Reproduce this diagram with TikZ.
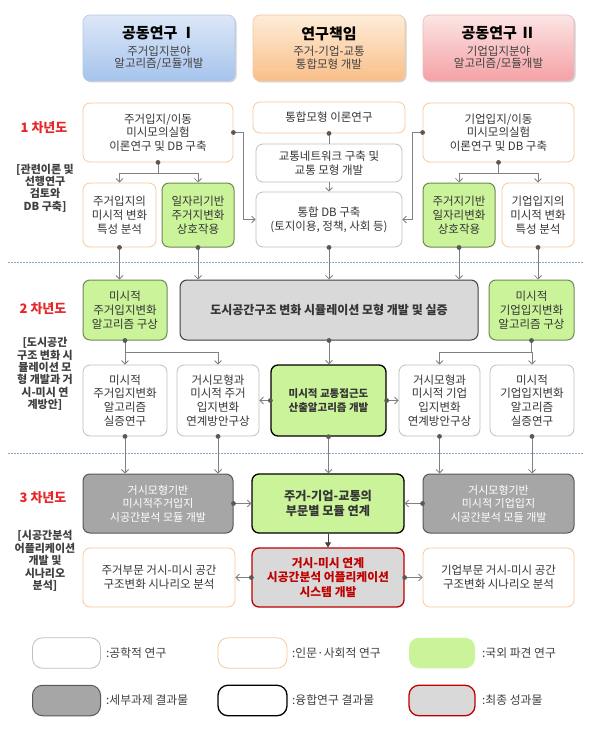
\documentclass[tikz,border=0pt]{standalone}
\usepackage{fontspec}
\setmainfont{Noto Sans CJK KR}
\usetikzlibrary{arrows.meta,calc}
\definecolor{txt}{HTML}{353535}
\definecolor{enggray}{HTML}{BFBFBF}
\definecolor{humor}{HTML}{F8C99A}
\definecolor{abrgreen}{HTML}{CBF39A}
\definecolor{abrborder}{HTML}{6F8A55}
\definecolor{resgray}{HTML}{A6A6A6}
\definecolor{resborder}{HTML}{595959}
\definecolor{finred}{HTML}{C00000}
\definecolor{lightgray2}{HTML}{D9D9D9}
\definecolor{darkborder}{HTML}{404040}
\definecolor{lgray}{HTML}{808080}
\definecolor{dotgray}{HTML}{595959}
\definecolor{yred}{HTML}{E8262A}
\definecolor{brkgray}{HTML}{404040}
\definecolor{sepblue}{HTML}{8EA9C8}
\definecolor{subtxt}{HTML}{404040}
\definecolor{hbtop}{HTML}{DCE7F8}
\definecolor{hbbot}{HTML}{A5C3EC}
\definecolor{hbdraw}{HTML}{B4C8E6}
\definecolor{hotop}{HTML}{FDECD8}
\definecolor{hobot}{HTML}{F9BE87}
\definecolor{hodraw}{HTML}{F2C8A0}
\definecolor{hptop}{HTML}{FCE4E4}
\definecolor{hpbot}{HTML}{F4A0A4}
\definecolor{hpdraw}{HTML}{ECBABA}
\newcommand\mydot[1]{\fill[dotgray] (#1) circle (2.4pt);}
\newcommand\mygrad[6]{% x1 y1 x2 y2 topcolor botcolor
  \fill[gray!35, rounded corners=7pt] ({#1+1.5},{#2+1.5}) rectangle ({#3+1.5},{#4+1.5});
  \begin{scope}
  \clip[rounded corners=7pt] (#1,#2) rectangle (#3,#4);
  \foreach \i in {0,...,33} {
    \pgfmathtruncatemacro\pp{100*\i/33}
    \fill[#6!\pp!#5] (#1,{#2+2*\i}) rectangle (#3,{#2+2*\i+2.2});
  }
  \end{scope}}
\newcommand\hdrtitle[1]{{\bfseries\fontsize{15}{17}\selectfont #1}}
\newcommand\hdrsub{\rule{0pt}{14pt}}
\begin{document}
\begin{tikzpicture}[x=1pt,y=-1pt,
 base/.style={rounded corners=7pt, align=center, inner sep=1pt, line width=0.8pt, font=\fontsize{11.5}{13.8}\selectfont, text=txt},
 eng/.style={base, draw=enggray, fill=white},
 hum/.style={base, draw=humor, fill=white},
 abr/.style={base, draw=abrborder, fill=abrgreen, line width=1pt},
 res/.style={base, draw=resborder, fill=resgray, text=white, line width=1pt, font=\fontsize{11}{13.5}\selectfont},
 fus/.style={base, draw=black, fill=abrgreen, line width=1.3pt, font=\bfseries\fontsize{10.5}{14}\selectfont},
 fin/.style={base, draw=finred, fill=lightgray2, line width=1.3pt, text=finred, font=\bfseries\fontsize{11.8}{14.5}\selectfont},
 sim/.style={base, draw=darkborder, fill=lightgray2, line width=1pt, font=\bfseries\fontsize{12}{14}\selectfont},
 hdr/.style={rounded corners=7pt, align=center, inner sep=1pt, line width=0.6pt, minimum width=152pt, minimum height=66pt, text=subtxt, font=\fontsize{11.5}{12.5}\selectfont},
 conn/.style={draw=lgray, line width=0.8pt},
 arr/.style={conn, -{Straight Barb[length=3.5pt,width=7pt]}},
 farr/.style={draw=darkborder, line width=1pt, -{Triangle[length=5pt,width=6pt]}},
 yr/.style={text=yred, font=\bfseries\fontsize{13}{14}\selectfont},
 brk/.style={text=brkgray, align=center, font=\bfseries\fontsize{11}{12.4}\selectfont},
 sep/.style={draw=sepblue, line width=0.8pt, dash pattern=on 1.5pt off 1.5pt},
 lgt/.style={anchor=west, inner sep=0pt, font=\fontsize{11.8}{13}\selectfont, text=subtxt},
 lbox/.style={base, rounded corners=10pt, minimum width=68pt, minimum height=30.5pt},
]
\useasboundingbox[fill=white] (0,0) rectangle (595,733);

% header backgrounds
\mygrad{83}{15}{235}{81}{hbtop}{hbbot}
\mygrad{253}{15}{405}{81}{hotop}{hobot}
\mygrad{423}{15}{574}{81}{hptop}{hpbot}
% headers
\node[hdr, draw=hbdraw] (H1) at (159,48)
 {\textcolor{black}{\hdrtitle{공동연구 Ⅰ}}\\\hdrsub 주거입지분야\\알고리즘/모듈개발};
\node[hdr, draw=hodraw] (H2) at (329,48)
 {\textcolor{black}{\hdrtitle{연구책임}}\\\hdrsub 주거-기업-교통\\통합모형 개발};
\node[hdr, minimum width=151pt, draw=hpdraw] (H3) at (498.5,48)
 {\textcolor{black}{\hdrtitle{공동연구 Ⅱ}}\\\hdrsub 기업입지분야\\알고리즘/모듈개발};

% year labels
\node[yr] (Y1) at (44,128) {1 차년도};
\node[brk] (K1) at (45,188) {[관련이론 및\\선행연구\\검토와\\DB 구축]};
\node[yr] (Y2) at (43,309) {2 차년도};
\node[brk] (K2) at (45,374) {[도시공간\\구조 변화 시\\뮬레이션 모\\형 개발과 거\\시-미시 연\\계방안]};
\node[yr] (Y3) at (43,498) {3 차년도};
\node[brk] (K3) at (45,561) {[시공간분석\\어플리케이션\\개발 및\\시나리오\\분석]};

% separators
\draw[sep] (8,262) -- (583,262);
\draw[sep] (8,453) -- (583,453);

% year 1
\node[hum, minimum width=150pt, minimum height=59pt] (A1) at (158,132.5) {주거입지/이동\\미시모의실험\\이론연구 및 DB 구축};
\node[hum, minimum width=73pt, minimum height=64pt] (A2) at (119.5,215) {주거입지의\\미시적 변화\\특성 분석};
\node[abr, minimum width=72pt, minimum height=64pt] (A3) at (198,215) {일자리기반\\주거지변화\\상호작용};
\node[hum, minimum width=152pt, minimum height=31pt] (C1) at (329,117.5) {통합모형 이론연구};
\node[eng, minimum width=146pt, minimum height=38pt] (C2) at (329,163) {교통네트워크 구축 및\\교통 모형 개발};
\node[eng, minimum width=146pt, minimum height=55pt] (C3) at (329,219.5) {통합 DB 구축\\(토지이용, 정책, 사회 등)};
\node[hum, minimum width=151pt, minimum height=59pt] (B1) at (498.5,132.5) {기업입지/이동\\미시모의실험\\이론연구 및 DB 구축};
\node[abr, minimum width=72pt, minimum height=64pt] (B2) at (459,215) {주거지기반\\일자리변화\\상호작용};
\node[hum, minimum width=72pt, minimum height=64pt] (B3) at (538,215) {기업입지의\\미시적 변화\\특성 분석};

% year 2
\node[abr, minimum width=84pt, minimum height=60pt] (D1) at (125,310) {미시적\\주거입지변화\\알고리즘 구상};
\node[sim, minimum width=298pt, minimum height=60pt] (D2) at (329,310) {도시공간구조 변화 시뮬레이션 모형 개발 및 실증};
\node[abr, minimum width=85pt, minimum height=60pt] (D3) at (531.5,310) {미시적\\기업입지변화\\알고리즘 구상};
\node[eng, minimum width=84pt, minimum height=71pt] (E1) at (125,400.5) {미시적\\주거입지변화\\알고리즘\\실증연구};
\node[eng, minimum width=82pt, minimum height=71pt] (E2) at (218,400.5) {거시모형과\\미시적 주거\\입지변화\\연계방안구상};
\node[fus, minimum width=115pt, minimum height=71pt] (E3) at (328.5,400.5) {미시적 교통접근도\\산출알고리즘 개발};
\node[eng, minimum width=81pt, minimum height=71pt] (E4) at (439.5,400.5) {거시모형과\\미시적 기업\\입지변화\\연계방안구상};
\node[eng, minimum width=84pt, minimum height=71pt] (E5) at (532,400.5) {미시적\\기업입지변화\\알고리즘\\실증연구};

% year 3
\node[res, minimum width=150pt, minimum height=59pt] (F1) at (158,503.5) {거시모형기반\\미시적주거입지\\시공간분석 모듈 개발};
\node[fus, minimum width=152pt, minimum height=59pt, font=\bfseries\fontsize{12.2}{15}\selectfont] (F2) at (328,503.5) {주거-기업-교통의\\부문별 모듈 연계};
\node[res, minimum width=151pt, minimum height=59pt] (F3) at (498.5,503.5) {거시모형기반\\미시적 기업입지\\시공간분석 모듈 개발};
\node[hum, minimum width=152pt, minimum height=59pt] (G1) at (159,577.5) {주거부문 거시-미시 공간\\구조변화 시나리오 분석};
\node[fin, minimum width=152pt, minimum height=59pt] (G2) at (328,577.5) {거시-미시 연계\\시공간분석 어플리케이션\\시스템 개발};
\node[hum, minimum width=151pt, minimum height=59pt] (G3) at (498.5,577.5) {기업부문 거시-미시 공간\\구조변화 시나리오 분석};

% connectors year 1
\draw[conn] (A1.south) -- ++(0,11) coordinate (jA);
\draw[arr] (jA) -| (A2.north);
\draw[arr] (jA) -| (A3.north);
\draw[arr] (A1.east) -- ++(10,0) |- (C3.west);
\draw[arr] (B1.west) -- ++(-10,0) |- (C3.east);
\draw[conn] (C1.south) -- (C2.north);
\draw[arr] (C2.south) -- (C3.north);
\draw[conn] (B1.south) -- ++(0,11) coordinate (jB);
\draw[arr] (jB) -| (B2.north);
\draw[arr] (jB) -| (B3.north);
% year 1 -> 2
\draw[arr] (A2.south) -- (A2.south |- D1.north);
\draw[arr] (A3.south) -- (A3.south |- D2.north);
\draw[arr] (C3.south) -- (C3.south |- D2.north);
\draw[arr] (B2.south) -- (B2.south |- D2.north);
\draw[arr] (B3.south) -- (B3.south |- D3.north);
% year 2
\draw[conn] (D1.south) -- ++(0,12) coordinate (jD);
\draw[arr] (jD) -| (E1.north);
\draw[arr] (jD) -| (E2.north);
\draw[arr] (D2.south) -- (D2.south |- E3.north);
\draw[conn] (D3.south) -- ++(0,12) coordinate (jE);
\draw[arr] (jE) -| (E5.north);
\draw[arr] (jE) -| (E4.north);
\draw[arr] (E3.west) -- (E2.east);
\draw[arr] (E3.east) -- (E4.west);
% year 2 -> 3
\draw[arr] (E1.south) -- (E1.south |- F1.north);
\draw[arr] (E2.south) -- (E2.south |- F1.north);
\draw[arr] (E3.south) -- (E3.south |- F2.north);
\draw[arr] (E4.south) -- (E4.south |- F3.north);
\draw[arr] (E5.south) -- (E5.south |- F3.north);
% year 3
\draw[arr] (F1.east) -- (F2.west);
\draw[arr] (F3.west) -- (F2.east);
\draw[farr] (F2.south) -- (G2.north);
\draw[arr] (G2.west) -- (G1.east);
\draw[arr] (G2.east) -- (G3.west);

% dots
\mydot{A1.south}\mydot{A1.east}\mydot{B1.south}\mydot{B1.west}\mydot{C1.south}
\mydot{A2.south}\mydot{A3.south}\mydot{C3.south}\mydot{B2.south}\mydot{B3.south}
\mydot{D1.south}\mydot{D2.south}\mydot{D3.south}
\mydot{E1.south}\mydot{E2.south}\mydot{E3.south}\mydot{E4.south}\mydot{E5.south}
\mydot{E3.west}\mydot{E3.east}
\mydot{F1.east}\mydot{F3.west}\mydot{G2.west}\mydot{G2.east}

% legend
\node[lbox, draw=enggray, fill=white] (L1) at (66.5,653) {};
\node[lgt] (T1) at (106,653) {:공학적 연구};
\node[lbox, draw=humor, fill=white, minimum width=69pt] (L2) at (252.5,653) {};
\node[lgt] (T2) at (292,653) {:인문·사회적 연구};
\node[lbox, fill=abrgreen, minimum width=66pt] (L3) at (442,653) {};
\node[lgt] (T3) at (482,653) {:국외 파견 연구};
\node[lbox, draw=resborder, fill=resgray, line width=1pt] (L4) at (66.5,700.5) {};
\node[lgt] (T4) at (106,700.5) {:세부과제 결과물};
\node[lbox, draw=black, fill=white, line width=1.3pt, minimum width=69pt] (L5) at (252.5,700.5) {};
\node[lgt] (T5) at (292,700.5) {:융합연구 결과물};
\node[lbox, draw=finred, fill=lightgray2, line width=1.3pt, minimum width=66pt] (L6) at (442,700.5) {};
\node[lgt] (T6) at (482,700.5) {:최종 성과물};
\end{tikzpicture}
\end{document}
